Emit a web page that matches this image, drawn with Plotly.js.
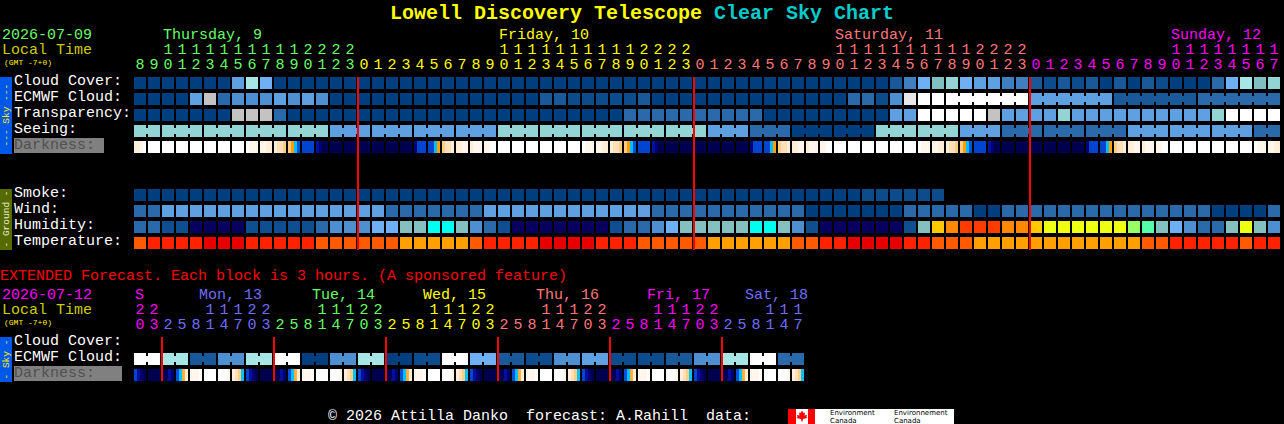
<!DOCTYPE html>
<html>
<head>
<meta charset="utf-8">
<script src="https://cdn.plot.ly/plotly-3.0.1.min.js"></script>
<style>html,body{margin:0;padding:0;background:#000;overflow:hidden}</style>
</head>
<body>
<div id="chart" style="width:1284px;height:424px"></div>
<script>
// ---------- Data ----------
const hours = [8,9,10,11,12,13,14,15,16,17,18,19,20,21,22,23,
  0,1,2,3,4,5,6,7,8,9,10,11,12,13,14,15,16,17,18,19,20,21,22,23,
  0,1,2,3,4,5,6,7,8,9,10,11,12,13,14,15,16,17,18,19,20,21,22,23,
  0,1,2,3,4,5,6,7,8,9,10,11,12,13,14,15,16,17];
const hourDayCounts = [16,24,24,18];
const hourDayColors = ['#66ff66','#ffff00','#ff7777','#ff00ff'];
const dayLabels = ['Thursday, 9','Friday, 10','Saturday, 11','Sunday, 12'];
const dayLabelCells = [2,26,50,74];
const midnightCells = [16,40,64];

const extHours = [20,23,
  2,5,8,11,14,17,20,23, 2,5,8,11,14,17,20,23, 2,5,8,11,14,17,20,23,
  2,5,8,11,14,17,20,23, 2,5,8,11,14,17,20,23, 2,5,8,11,14,17];
const extDayCounts = [2,8,8,8,8,8,6];
const extDayColors = ['#ff00ff','#6e6eff','#66ff66','#ffff00','#ff7777','#ff00ff','#6e6eff'];
const extDayLabels = ['S','Mon, 13','Tue, 14','Wed, 15','Thu, 16','Fri, 17','Sat, 18'];
const extDayLabelPx = [134,198,311,422,535,646,744];
const extMidnightCells = [2,10,18,26,34,42];

// cloud-type levels, index into skyColors
const skyColors = ['#003f7f','#0d4c8c','#1a5999','#2a6aab','#3f7fbf','#4d8fd1','#5fa0e3','#6fb0f5',
                   '#80c0c0','#93d5d5','#a6e6e6','#c3c3c3','#e8e8e8','#ffffff'];
const cloudCover = [0,0,0,0,0,0,0,6,10,7, 0,0,0,0,0,0,0,0,0,0, 0,0,0,0,0,0,0,0,0,0,
  0,0,0,0,0,0,0,0,0,0, 0,0,0,0,0,0,0,0,0,0, 0,0,0,0,2,4,7,8,9,7,
  6,6,4,4,2,1,2,1,2,0, 2,0,2,1,0,0,0,3,7,10,8,9];
const ecmwfCloud = [0,0,0,0,6,11,3,5,5,5, 6,5,6,5,0,0,0,0,0,0, 0,0,0,0,0,0,0,0,0,2,
  2,1,1,1,1,1,2,0,0,0, 0,0,0,0,0,0,0,0,0,0, 0,3,3,1,5,12,13,13,13,13,
  13,13,13,13,6,6,6,6,6,6, 2,2,2,2,2,2,3,3,3,3,3,3];
const ecmwfFirstJoined = [58,64,70,76];
const ecmwfJoinedLength = [6,6,6,6];
const transparency = [0,0,0,0,0,0,0,11,11,11, 3,0,0,0,0,0,0,0,0,0, 0,0,0,0,0,0,0,0,0,0,
  0,0,0,0,0,3,3,3,3,3, 3,3,3,3,3,0,0,0,0,0, 0,0,0,0,6,6,13,13,13,13,
  13,11,6,6,6,6,9,6,6,6, 6,6,6,6,6,6,6,9,13,13,13,13];
const seeingRunLengths = [2,3,3,3,3,3,3,3,3,3,3,3,3,3,3,3,3,3,3,3,3,3,3,3,3,3,3,2];
const seeingRunLevels  = [9,9,9,9,9,6,6,6,6,9,9,9,9,9,6,3,0,0,9,9,6,3,3,3,6,6,6,3];
const smoke = [0,0,0,0,0,0,0,0,0,0, 0,0,0,0,0,0,0,0,0,0, 0,0,0,0,0,0,0,0,0,0,
  0,0,0,0,0,0,0,0,0,0, 0,0,0,0,0,0,0,0,0,0, 0,0,1,1,1,1,1,1];
const wind = [3,3,6,6,6,6,6,6,6,6, 6,6,6,6,6,6,6,6,3,3, 3,3,3,3,3,6,6,6,6,6,
  6,6,6,6,6,6,6,3,3,3, 3,3,3,3,3,3,3,3,0,0, 0,0,0,0,0,3,3,3,3,3,
  0,0,3,3,3,3,3,3,3,3, 3,3,3,3,3,3,3,0,0,0,0,3];

const humidityColors = ['#08005f','#0f4f90','#2a6aab','#4d8fd1','#6fb0f5','#85c0c0','#00ffee',
                        '#55ffaa','#99ff66','#eeff14','#ffc800','#ff8800','#ff3c00'];
const humidity = [2,2,1,1,0,0,0,0,1,1, 1,1,1,2,3,3,3,4,4,5, 5,6,6,5,3,2,1,0,0,0,
  0,0,0,0,1,2,2,3,4,5, 5,5,5,5,6,6,5,3,1,0, 0,0,0,0,0,1,5,10,11,12,
  12,12,11,11,10,9,9,9,9,9, 9,8,7,5,4,3,2,2,5,9,5,3];

const temperatureColors = ['#e60000','#ff2200','#ff5a00','#ffa000'];
const temperature = [2,1,1,1,1,0,0,0,1,1, 1,1,1,2,2,2,2,2,2,3, 3,3,3,3,2,1,1,1,1,0,
  0,0,0,1,1,1,2,2,2,2, 2,3,3,3,3,3,3,2,2,1, 1,0,0,0,0,1,1,2,2,2,
  3,3,3,3,3,3,3,3,3,3, 3,3,2,2,1,1,1,1,1,2,1,1];

// darkness: each block is four slices, one colour code per slice
const darkColors = {W:'#ffffff',a:'#fff6ec',b:'#ffeed8',c:'#ffe0b8',d:'#ffcc88',e:'#ffb040',f:'#ffa000',
  g:'#00c0ff',h:'#0050e0',i:'#0044d0',j:'#0010a0',k:'#000070',l:'#000050'};
const darkness = ['bbaW','WWWW','WWWW','WWWW','WWWW','WWWW','WWWW','WWWW','Waaa','aabb','bccd','dfgh',
  'iiii','jkll','llll','llll','llll','llll','llll','llll','kiii','iigf','dccb','bbaa','baaa','aaWW',
  'WWWW','WWWW','WWWW','WWWW','WWWW','WWWW','Waaa','aabb','bccd','dfgh',
  'iiii','jkll','llll','llll','llll','llll','llll','llll','kiii','iigf','dccb','bbaa','baaa','aaWW',
  'WWWW','WWWW','WWWW','WWWW','WWWW','WWWW','Waaa','aabb','bccd','dfgh',
  'iiii','jkll','llll','llll','llll','llll','llll','llll','kiii','iigf','dccb','bbaa','baaa','aaWW',
  'WWWW','WWWW','WWWW','WWWW','WWWW','WWWW','Waaa','aabb'];
const extEcmwfLevels = [13,10,2,5,10,13,0,5,10,0,1,13,7,2,1,5,6,1,1,2,5,10,13,3];
const extDarkness = ['ijkl','llll','lljk','hgeb','aaaW','WWWW','WWWa','bcdg',
  'ijkl','llll','lljk','hgeb','aaaW','WWWW','WWWa','bcdg',
  'ijkl','llll','lljk','hgeb','aaaW','WWWW','WWWa','bcdg',
  'ijkl','llll','lljk','hgeb','aaaW','WWWW','WWWa','bcdg',
  'ijkl','llll','lljk','hgeb','aaaW','WWWW','WWWa','bcdg',
  'ijkl','llll','lljk','hgeb','aaaW','WWWW','WWWa','bcdg'];

// ---------- Layout constants ----------
const W = 1284, H = 424, LEFT = 134, PITCH = 14, ROW = 16, TOP = 77;
const CELL = 12/PITCH, CELLH = 12/ROW;
const FONT = 'Liberation Mono, DejaVu Sans Mono, monospace';
const rowY = p => (p - TOP)/ROW;     // pixel row position -> row units
const px = x => x/W, py = y => 1 - y/H;

const traces = [];
function cells(values, colors, top){
  traces.push({type:'bar', x:values.map((_,i)=>i), y:values.map(()=>CELLH), base:values.map(()=>rowY(top)),
    width:CELL, offset:0, marker:{color:values.map(v=>colors[v]), line:{width:0}}, hoverinfo:'skip', showlegend:false});
}
function bridges(starts, lengths, levels, top){
  const x=[], c=[];
  starts.forEach((s,g)=>{ for(let k=0;k<lengths[g]-1;k++){ x.push(s+k+CELL); c.push(skyColors[levels[s+k]]); } });
  traces.push({type:'bar', x, y:x.map(()=>6/ROW), base:x.map(()=>rowY(top+3)), width:2/PITCH, offset:0,
    marker:{color:c, line:{width:0}}, hoverinfo:'skip', showlegend:false});
}
function runsToCells(lengths, levels){
  const out=[]; lengths.forEach((n,g)=>{ for(let k=0;k<n;k++) out.push(levels[g]); }); return out;
}
function runStarts(lengths){ let s=0; return lengths.map(n=>{const r=s; s+=n; return r;}); }
function darkCells(list, top){
  const x=[], c=[];
  list.forEach((codes,i)=>{ [...codes].forEach((ch,k)=>{ x.push(i + k*3/PITCH); c.push(darkColors[ch]); }); });
  traces.push({type:'bar', x, y:x.map(()=>CELLH), base:x.map(()=>rowY(top)), width:3/PITCH, offset:0,
    marker:{color:c, line:{width:0}}, hoverinfo:'skip', showlegend:false});
}
function hourText(hs, counts, colors, tensY, unitsY){
  const col=[]; counts.forEach((n,d)=>{ for(let k=0;k<n;k++) col.push(colors[d]); });
  const xs=hs.map((_,i)=>i+CELL/2);
  traces.push({type:'scatter', mode:'text', x:xs, y:hs.map(()=>rowY(unitsY)), text:hs.map(h=>String(h%10)),
    textposition:'middle center', textfont:{family:FONT,size:15,color:col}, hoverinfo:'skip', showlegend:false, cliponaxis:false});
  traces.push({type:'scatter', mode:'text', x:xs, y:hs.map(()=>rowY(tensY)), text:hs.map(h=>h>=10?String(Math.floor(h/10)):''),
    textposition:'middle center', textfont:{family:FONT,size:15,color:col}, hoverinfo:'skip', showlegend:false, cliponaxis:false});
}
function redLines(list, y0, y1){
  const x=[], y=[];
  list.forEach(m=>{ x.push(m,m,null); y.push(rowY(y0),rowY(y1),null); });
  traces.push({type:'scatter', mode:'lines', x, y, line:{color:'#ff0000',width:2}, hoverinfo:'skip', showlegend:false});
}

cells(cloudCover, skyColors, 77);
cells(ecmwfCloud, skyColors, 93);
bridges(ecmwfFirstJoined, ecmwfJoinedLength, ecmwfCloud, 93);
cells(transparency, skyColors, 109);
const seeing = runsToCells(seeingRunLengths, seeingRunLevels);
cells(seeing, skyColors, 125);
bridges(runStarts(seeingRunLengths), seeingRunLengths, seeing, 125);
darkCells(darkness, 141);
cells(smoke, skyColors, 189);
cells(wind, skyColors, 205);
cells(humidity, humidityColors, 221);
cells(temperature, temperatureColors, 237);
const extEcmwf = runsToCells(extEcmwfLevels.map(()=>2), extEcmwfLevels);
cells(extEcmwf, skyColors, 353);
bridges(runStarts(extEcmwfLevels.map(()=>2)), extEcmwfLevels.map(()=>2), extEcmwf, 353);
darkCells(extDarkness, 369);
redLines(midnightCells, 77, 250);
redLines(extMidnightCells, 337, 381);
hourText(hours, hourDayCounts, hourDayColors, 50, 65);
hourText(extHours, extDayCounts, extDayColors, 310, 325);

// ---------- Labels ----------
const ann = [];
function label(text,x,y,color,size,extra){
  ann.push(Object.assign({xref:'paper',yref:'paper',x:px(x-1),y:py(y),xanchor:'left',yanchor:'middle',showarrow:false,
    text,borderpad:0,font:{family:FONT,size:size||15,color}},extra||{}));
}
const rowLabels = ['Cloud Cover:','ECMWF Cloud:','Transparency:','Seeing:','Smoke:','Wind:','Humidity:','Temperature:','Cloud Cover:','ECMWF Cloud:'];
const rowLabelPx = [81.5,97.5,113.5,129.5,193,209,225,241,341,357];
rowLabels.forEach((t,i)=>label(t,14,rowLabelPx[i],'#ffffff'));
label('Darkness:',14,145.5,'#505050');
label('Darkness:',14,373,'#505050');
label('2026-07-09',2,36,'#66ff66');
label('Local Time',2,50,'#cccc00');
label('(GMT -7+0)',4,62,'#ffee00',8);
dayLabels.forEach((t,i)=>label(t,LEFT+PITCH*dayLabelCells[i]+1,36,hourDayColors[i]));
label('EXTENDED Forecast. Each block is 3 hours. (A sponsored feature)',0,276,'#ff0000');
label('2026-07-12',2,295,'#ff00ff');
label('Local Time',2,310,'#cccc00');
label('(GMT -7+0)',4,322,'#ffee00',8);
extDayLabels.forEach((t,i)=>label(t,extDayLabelPx[i]+1,295,extDayColors[i]));
label('© 2026 Attilla Danko  forecast: A.Rahill  data:',328,416,'#ffffff');
function sideText(text,y,color){
  ann.push({xref:'paper',yref:'paper',x:px(6),y:py(y),xanchor:'center',yanchor:'middle',showarrow:false,textangle:-90,
    text,font:{family:FONT,size:9.5,color}});
}
sideText('--- Sky ---',115.5,'#ffee00');
sideText('- Ground -',219.5,'#f0f0c8');
sideText('- Sky -',359.5,'#ffee00');
const logoTexts = ['Environment','Canada','Environnement','Canada'];
const logoTextX = [829,829,893,893];
const logoTextY = [412.5,420.8,412.5,420.8];
logoTexts.forEach((t,i)=>ann.push({xref:'paper',yref:'paper',x:px(logoTextX[i]),y:py(logoTextY[i]),xanchor:'left',yanchor:'middle',
  showarrow:false,borderpad:0,text:t,font:{family:'DejaVu Sans',size:7,color:'#000'}}));

// ---------- Decorative rectangles ----------
function box(x0,y0,x1,y1,color){
  return {type:'rect',xref:'paper',yref:'paper',x0:px(x0),x1:px(x1),y0:py(y0),y1:py(y1),fillcolor:color,line:{width:0},layer:'below'};
}
const leaf = [[802,410.5],[803.5,413],[805,412.5],[804.5,415.5],[807,415],[806.5,417],[807.5,418],[803,419],[802.5,421.5],[801.5,421.5],[801,419],[796.5,418],[797.5,417],[797,415],[799.5,415.5],[799,412.5],[800.5,413]];
const shapes = [
  box(0,77,12,154,'#0058e8'), box(0,189,12,250,'#556b00'), box(0,337,12,382,'#0058e8'),
  box(14,138,104,153,'#808080'), box(14,366,122,381,'#808080'),
  box(788,409,954,424,'#ffffff'), box(788,409,796,424,'#ff0000'), box(808,409,815,424,'#ff0000'),
  {type:'path',xref:'paper',yref:'paper',layer:'below',fillcolor:'#ff0000',line:{width:0},
   path:'M'+leaf.map(p=>px(p[0])+','+py(p[1])).join(' L')+' Z'}
];

const layout = {
  width:W, height:H, margin:{l:0,r:0,t:0,b:0,pad:0},
  paper_bgcolor:'#000000', plot_bgcolor:'#000000',
  barmode:'overlay', showlegend:false, hovermode:false,
  title:{text:'<span style="color:#ffff00">Lowell Discovery Telescope</span> <span style="color:#00cccc">Clear Sky Chart</span>',
    x:0.5,xref:'paper',xanchor:'center',y:1-12/H,yref:'container',yanchor:'middle',
    font:{family:FONT,size:20,weight:700}},
  xaxis:{visible:false,fixedrange:true,range:[-LEFT/PITCH,(W-LEFT)/PITCH]},
  yaxis:{visible:false,fixedrange:true,range:[(H-TOP)/ROW,-TOP/ROW]},
  annotations:ann, shapes
};
Plotly.newPlot('chart',traces,layout,{displayModeBar:false,staticPlot:true});
</script>
</body>
</html>
